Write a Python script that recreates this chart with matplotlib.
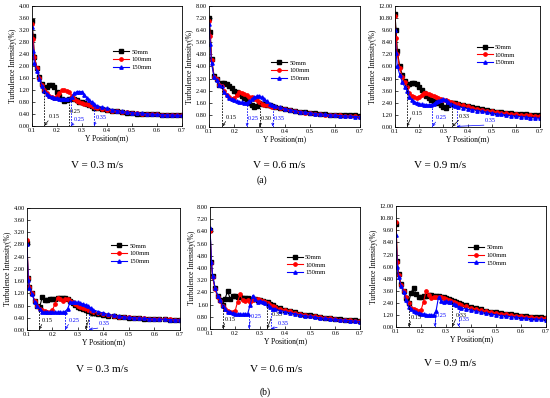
import matplotlib
matplotlib.use("Agg")
import matplotlib.pyplot as plt
from matplotlib.ticker import FormatStrFormatter, MultipleLocator

plt.rcParams['font.family'] = ['Liberation Serif', 'DejaVu Serif']

# Y position (m), shared by every panel
x = [0.10, 0.105, 0.11, 0.12, 0.13, 0.14, 0.15, 0.16, 0.17, 0.18, 0.19, 0.20,
     0.21, 0.22, 0.23, 0.24, 0.25, 0.26, 0.27, 0.28, 0.29, 0.30, 0.31, 0.32,
     0.33, 0.34, 0.35, 0.36, 0.38, 0.40, 0.42, 0.44, 0.46, 0.48, 0.50, 0.52,
     0.54, 0.56, 0.58, 0.60, 0.62, 0.64, 0.66, 0.68, 0.70]

labels = ["50mm", "100mm", "150mm"]

# (a) V = 0.3 m/s
a1_50 = [3.50, 3.00, 2.30, 1.95, 1.62, 1.40, 1.22, 1.30, 1.36, 1.38, 1.30, 1.15,
         1.00, 0.90, 0.85, 0.86, 0.92, 0.95, 0.90, 0.86, 0.82, 0.80, 0.76, 0.73,
         0.70, 0.66, 0.62, 0.60, 0.57, 0.54, 0.51, 0.49, 0.47, 0.45, 0.44, 0.42,
         0.41, 0.40, 0.39, 0.39, 0.38, 0.38, 0.37, 0.37, 0.37]
a1_100 = [3.40, 2.90, 2.30, 1.95, 1.60, 1.38, 1.20, 1.10, 1.02, 0.98, 0.95, 1.00,
          1.10, 1.22, 1.20, 1.18, 1.15, 1.00, 0.90, 0.85, 0.80, 0.78, 0.75, 0.73,
          0.71, 0.68, 0.65, 0.62, 0.58, 0.55, 0.52, 0.50, 0.48, 0.46, 0.44, 0.43,
          0.42, 0.41, 0.40, 0.39, 0.38, 0.38, 0.37, 0.36, 0.36]
a1_150 = [3.30, 2.50, 2.10, 1.85, 1.58, 1.35, 1.18, 1.08, 1.00, 0.97, 0.95, 0.93,
          0.92, 0.90, 0.90, 0.90, 0.92, 0.96, 1.10, 1.15, 1.15, 1.15, 1.05, 0.95,
          0.86, 0.80, 0.73, 0.68, 0.63, 0.59, 0.55, 0.52, 0.49, 0.47, 0.45, 0.44,
          0.43, 0.41, 0.40, 0.39, 0.38, 0.38, 0.37, 0.36, 0.36]

# (a) V = 0.6 m/s
a2_50 = [7.20, 6.30, 4.50, 3.40, 3.20, 2.80, 2.90, 2.90, 2.85, 2.70, 2.55, 2.40,
         2.30, 2.20, 2.05, 1.90, 1.80, 1.60, 1.45, 1.30, 1.40, 1.60, 1.55, 1.50,
         1.45, 1.42, 1.38, 1.33, 1.27, 1.20, 1.14, 1.08, 1.02, 0.98, 0.94, 0.90,
         0.87, 0.85, 0.82, 0.80, 0.79, 0.78, 0.77, 0.76, 0.75]
a2_100 = [7.00, 6.00, 4.40, 3.30, 3.20, 2.75, 2.70, 2.40, 2.10, 1.95, 1.85, 1.90,
          2.10, 2.30, 2.25, 2.20, 2.10, 2.00, 1.95, 1.85, 1.75, 1.62, 1.52, 1.46,
          1.42, 1.38, 1.34, 1.30, 1.24, 1.17, 1.10, 1.05, 1.00, 0.95, 0.91, 0.88,
          0.85, 0.82, 0.80, 0.78, 0.76, 0.74, 0.72, 0.70, 0.68]
a2_150 = [6.80, 5.50, 4.20, 3.30, 3.10, 2.75, 2.70, 2.30, 2.10, 1.90, 1.82, 1.75,
          1.70, 1.65, 1.62, 1.60, 1.60, 1.70, 1.85, 1.95, 2.05, 2.05, 1.95, 1.85,
          1.70, 1.55, 1.45, 1.38, 1.30, 1.22, 1.15, 1.08, 1.02, 0.97, 0.93, 0.89,
          0.86, 0.83, 0.80, 0.78, 0.75, 0.73, 0.71, 0.69, 0.67]

# (a) V = 0.9 m/s
a3_50 = [11.20, 9.60, 7.50, 6.00, 5.20, 4.60, 4.20, 4.30, 4.40, 4.40, 4.30, 4.00,
         3.70, 3.40, 3.10, 2.90, 2.70, 2.60, 2.50, 2.40, 2.20, 2.00, 1.90, 2.20,
         2.40, 2.40, 2.35, 2.30, 2.20, 2.08, 1.96, 1.85, 1.75, 1.66, 1.58, 1.50,
         1.44, 1.40, 1.35, 1.32, 1.28, 1.25, 1.22, 1.20, 1.18]
a3_100 = [11.00, 8.80, 7.20, 5.80, 5.00, 4.50, 4.00, 3.40, 3.10, 2.95, 2.90, 3.00,
          3.20, 3.40, 3.35, 3.30, 3.20, 3.10, 3.00, 2.90, 2.80, 2.70, 2.65, 2.55,
          2.50, 2.40, 2.30, 2.25, 2.15, 2.03, 1.92, 1.82, 1.72, 1.63, 1.55, 1.47,
          1.40, 1.35, 1.30, 1.26, 1.22, 1.18, 1.15, 1.12, 1.10]
a3_150 = [9.60, 7.30, 6.00, 5.20, 4.50, 4.00, 3.60, 3.00, 2.70, 2.50, 2.40, 2.30,
          2.25, 2.20, 2.20, 2.20, 2.20, 2.30, 2.50, 2.60, 2.70, 2.75, 2.70, 2.50,
          2.30, 2.20, 2.10, 2.02, 1.92, 1.82, 1.72, 1.63, 1.54, 1.46, 1.38, 1.30,
          1.24, 1.18, 1.12, 1.06, 1.01, 0.97, 0.93, 0.89, 0.85]

# (b) V = 0.3 m/s
b1_50 = [2.85, 1.70, 1.40, 1.20, 0.95, 0.80, 0.75, 1.08, 0.98, 0.98, 1.00, 1.00,
         1.02, 1.03, 1.03, 1.05, 1.03, 1.00, 0.95, 0.88, 0.82, 0.76, 0.72, 0.70,
         0.66, 0.63, 0.60, 0.57, 0.53, 0.50, 0.47, 0.45, 0.43, 0.41, 0.40, 0.39,
         0.38, 0.37, 0.36, 0.36, 0.35, 0.35, 0.34, 0.34, 0.33]
b1_100 = [2.95, 1.70, 1.40, 1.20, 0.95, 0.80, 0.70, 0.65, 0.62, 0.60, 0.60, 0.65,
          0.85, 1.05, 1.00, 0.95, 1.00, 1.00, 0.95, 0.90, 0.85, 0.80, 0.75, 0.72,
          0.68, 0.65, 0.62, 0.59, 0.55, 0.52, 0.49, 0.46, 0.44, 0.42, 0.41, 0.40,
          0.39, 0.38, 0.37, 0.36, 0.36, 0.35, 0.35, 0.34, 0.34]
b1_150 = [2.80, 1.65, 1.38, 1.18, 0.92, 0.78, 0.68, 0.60, 0.58, 0.58, 0.58, 0.58,
          0.58, 0.58, 0.58, 0.58, 0.60, 0.70, 0.92, 0.90, 0.90, 0.90, 0.88, 0.85,
          0.82, 0.78, 0.72, 0.66, 0.60, 0.55, 0.51, 0.48, 0.45, 0.43, 0.41, 0.40,
          0.39, 0.38, 0.37, 0.36, 0.35, 0.35, 0.34, 0.33, 0.33]

# (b) V = 0.6 m/s
b2_50 = [6.50, 4.40, 3.50, 2.70, 2.20, 1.90, 1.60, 2.00, 2.50, 2.00, 2.15, 2.15,
         2.10, 2.10, 2.05, 2.05, 2.05, 2.00, 2.00, 1.95, 1.90, 1.90, 1.85, 1.80,
         1.75, 1.65, 1.55, 1.48, 1.38, 1.28, 1.19, 1.10, 1.02, 0.95, 0.90, 0.85,
         0.80, 0.76, 0.72, 0.68, 0.65, 0.62, 0.60, 0.57, 0.55]
b2_100 = [6.40, 4.30, 3.40, 2.60, 2.10, 1.85, 1.50, 1.30, 1.20, 1.15, 1.10, 1.20,
          1.80, 2.30, 1.90, 1.85, 1.90, 1.80, 1.90, 2.00, 1.95, 1.90, 1.85, 1.80,
          1.70, 1.60, 1.50, 1.43, 1.34, 1.25, 1.16, 1.08, 1.00, 0.94, 0.88, 0.83,
          0.78, 0.74, 0.70, 0.66, 0.63, 0.60, 0.57, 0.55, 0.53]
b2_150 = [6.60, 4.40, 3.50, 2.70, 2.20, 1.90, 1.50, 1.30, 1.15, 1.10, 1.05, 1.00,
          0.99, 0.98, 0.98, 0.98, 1.00, 1.60, 2.20, 2.00, 1.80, 1.85, 1.80, 1.70,
          1.60, 1.45, 1.35, 1.30, 1.22, 1.14, 1.07, 1.00, 0.94, 0.88, 0.83, 0.78,
          0.74, 0.70, 0.67, 0.64, 0.61, 0.58, 0.55, 0.53, 0.50]

# (b) V = 0.9 m/s
b3_50 = [10.20, 6.60, 5.30, 4.30, 3.60, 2.90, 2.40, 3.40, 3.90, 3.30, 3.00, 3.00,
         3.05, 3.10, 3.15, 3.15, 3.10, 3.05, 3.05, 3.00, 3.00, 2.90, 2.80, 2.70,
         2.60, 2.50, 2.40, 2.30, 2.15, 2.00, 1.88, 1.76, 1.65, 1.55, 1.47, 1.40,
         1.33, 1.27, 1.20, 1.15, 1.10, 1.05, 1.00, 0.96, 0.92]
b3_100 = [10.40, 6.50, 5.20, 4.20, 3.60, 3.00, 2.40, 1.90, 1.80, 1.70, 1.60, 1.70,
          2.50, 3.60, 3.20, 2.90, 3.00, 2.95, 3.00, 2.95, 2.85, 2.80, 2.70, 2.60,
          2.50, 2.40, 2.30, 2.20, 2.05, 1.92, 1.80, 1.68, 1.58, 1.49, 1.41, 1.34,
          1.27, 1.21, 1.15, 1.10, 1.05, 1.00, 0.95, 0.91, 0.87]
b3_150 = [9.10, 6.00, 5.00, 4.10, 3.50, 2.70, 2.00, 1.80, 1.60, 1.50, 1.42, 1.35,
          1.30, 1.25, 1.22, 1.20, 1.20, 1.60, 3.00, 2.60, 2.50, 2.55, 2.50, 2.45,
          2.30, 2.20, 2.00, 1.92, 1.80, 1.68, 1.57, 1.47, 1.38, 1.30, 1.22, 1.15,
          1.09, 1.03, 0.98, 0.93, 0.88, 0.84, 0.80, 0.76, 0.72]

# marked positions: (x, top of dashed line, label, colour, text x, text y as fraction of ymax, arrow)
marks_a1 = [(0.15, 1.22, "0.15", "k", 0.167, 0.08, True),
            (0.248, 0.90, "0.25", "k", 0.253, 0.12, False),
            (0.256, 0.93, "0.25", "b", 0.268, 0.055, True),
            (0.348, 0.72, "0.35", "b", 0.356, 0.07, True)]
marks_a2 = [(0.153, 2.90, "0.15", "k", 0.168, 0.08, True),
            (0.25, 1.60, "0.25", "b", 0.254, 0.07, True),
            (0.303, 1.60, "0.30", "k", 0.306, 0.07, True),
            (0.353, 1.42, "0.35", "b", 0.355, 0.07, True)]
marks_a3 = [(0.15, 4.20, "0.15", "k", 0.168, 0.11, True),
            (0.255, 2.20, "0.25", "b", 0.27, 0.075, True),
            (0.338, 2.40, "0.33", "k", 0.365, 0.09, True),
            (0.357, 2.35, "0.35", "b", 0.47, 0.05, True)]
marks_b1 = [(0.148, 0.70, "0.15", "k", 0.16, 0.08, True),
            (0.25, 0.60, "0.25", "b", 0.265, 0.08, True),
            (0.33, 0.66, "0.33", "k", 0.345, 0.12, True),
            (0.345, 0.62, "0.35", "b", 0.38, 0.05, True)]
marks_b2 = [(0.15, 1.60, "0.15", "k", 0.16, 0.08, True),
            (0.255, 1.00, "0.25", "b", 0.262, 0.10, True),
            (0.328, 1.75, "0.33", "k", 0.345, 0.12, True),
            (0.345, 1.50, "0.35", "b", 0.37, 0.05, True)]
marks_b3 = [(0.15, 2.40, "0.15", "k", 0.16, 0.08, True),
            (0.255, 1.20, "0.25", "b", 0.26, 0.10, True),
            (0.325, 2.60, "0.33", "k", 0.34, 0.10, True),
            (0.35, 2.05, "0.35", "b", 0.352, 0.06, True)]

panels = [
    ([0.058, 0.683, 0.273, 0.302], 4.0, (a1_50, a1_100, a1_150), marks_a1, (0.52, 0.67)),
    ([0.380, 0.681, 0.275, 0.304], 8.0, (a2_50, a2_100, a2_150), marks_a2, (0.39, 0.58)),
    ([0.718, 0.681, 0.264, 0.304], 12.0, (a3_50, a3_100, a3_150), marks_a3, (0.54, 0.71)),
    ([0.049, 0.171, 0.278, 0.307], 4.0, (b1_50, b1_100, b1_150), marks_b1, (0.53, 0.74)),
    ([0.382, 0.173, 0.273, 0.307], 8.0, (b2_50, b2_100, b2_150), marks_b2, (0.49, 0.64)),
    ([0.720, 0.178, 0.273, 0.304], 12.0, (b3_50, b3_100, b3_150), marks_b3, (0.46, 0.71)),
]

colors = ["black", "red", "blue"]
markers = ["s", "o", "^"]

fig = plt.figure(figsize=(5.5, 3.98), dpi=100)

for rect, ymax, series, marks, leg_pos in panels:
    ax = fig.add_axes(rect)
    for y, c, m, lab in zip(series, colors, markers, labels):
        ax.plot(x, y, color=c, marker=m, markersize=2.4, linewidth=0.8, label=lab)
    for mx, top, txt, c, tx, ty, arrow in marks:
        ax.plot([mx, mx], [0, top], color=c, linestyle=(0, (2, 1.5)), linewidth=0.6)
        ax.text(tx, ty * ymax, txt, color=c, fontsize=4.5, va="center", ha="left")
        if arrow:
            ax.annotate("", xy=(mx, 0.005 * ymax), xytext=(tx - 0.002, (ty - 0.035) * ymax),
                        arrowprops=dict(arrowstyle="->", color=c, lw=0.5,
                                        shrinkA=0, shrinkB=0, mutation_scale=4))
    ax.set_xlim(0.1, 0.7)
    ax.set_ylim(0, ymax)
    ax.xaxis.set_major_locator(MultipleLocator(0.1))
    ax.yaxis.set_major_locator(MultipleLocator(ymax / 10))
    ax.yaxis.set_major_formatter(FormatStrFormatter("%.2f"))
    ax.tick_params(direction="in", labelsize=4.6, length=2, width=0.5, pad=1.5)
    for s in ax.spines.values():
        s.set_linewidth(0.6)
    ax.set_xlabel("Y Position(m)", fontsize=5.5, labelpad=1)
    ax.set_ylabel("Turbulence Intensity(%)", fontsize=5.5, labelpad=1)
    ax.legend(loc="upper left", bbox_to_anchor=leg_pos, frameon=False, fontsize=4.8,
              handlelength=2.4, labelspacing=0.3, borderpad=0, handletextpad=0.3)

fig.text(97 / 550, 1 - 166 / 398, "V = 0.3 m/s", fontsize=8, ha="center", va="center")
fig.text(279 / 550, 1 - 166 / 398, "V = 0.6 m/s", fontsize=8, ha="center", va="center")
fig.text(440 / 550, 1 - 166 / 398, "V = 0.9 m/s", fontsize=8, ha="center", va="center")
fig.text(262 / 550, 1 - 180 / 398, "(a)", fontsize=7, ha="center", va="center")
fig.text(102 / 550, 1 - 370 / 398, "V = 0.3 m/s", fontsize=8, ha="center", va="center")
fig.text(276 / 550, 1 - 370 / 398, "V = 0.6 m/s", fontsize=8, ha="center", va="center")
fig.text(450 / 550, 1 - 364 / 398, "V = 0.9 m/s", fontsize=8, ha="center", va="center")
fig.text(265 / 550, 1 - 392 / 398, "(b)", fontsize=7, ha="center", va="center")

fig.savefig("out.png", dpi=100)
